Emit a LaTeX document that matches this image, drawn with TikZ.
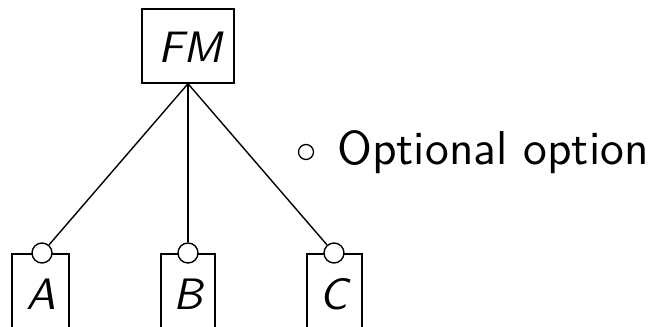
\documentclass[tikz,border=0pt]{standalone}
\begin{document}
\begin{tikzpicture}[x=1pt,y=-1pt,line width=1.4pt,
  lbl/.style={font=\sffamily\itshape,inner sep=0pt,scale=4.4},
  opt/.style={circle,draw,fill=white,minimum size=20pt,inner sep=0pt},
  leafbox/.style={draw,line width=1.4pt}]
\useasboundingbox (0,0) rectangle (654,327);
% root
\node[draw,minimum width=92pt,minimum height=74pt,inner sep=0pt] (fm) at (188,46) {};
\node[lbl] (fmt) at (190,47) {FM};
% leaf boxes
\draw[leafbox] (12,340) -- (12,254) -- (69,254) -- (69,340);
\draw[leafbox] (161,340) -- (161,254) -- (215,254) -- (215,340);
\draw[leafbox] (307,340) -- (307,254) -- (362,254) -- (362,340);
\node[lbl] (a) at (41,294) {A};
\node[lbl] (b) at (188,294) {B};
\node[lbl] (c) at (334,294) {C};
% optional circles
\node[opt] (oa) at (42,253) {};
\node[opt] (ob) at (188,253) {};
\node[opt] (oc) at (334,253) {};
\draw (fm.south) -- (oa);
\draw (fm.south) -- (ob);
\draw (fm.south) -- (oc);
% legend
\node[circle,draw,line width=1.3pt,minimum size=15pt,inner sep=0pt] (lg) at (306,152) {};
\node[anchor=west,inner sep=0pt,font=\sffamily,scale=4.75] (lt) at (334,152) {Optional option};
\end{tikzpicture}
\end{document}
